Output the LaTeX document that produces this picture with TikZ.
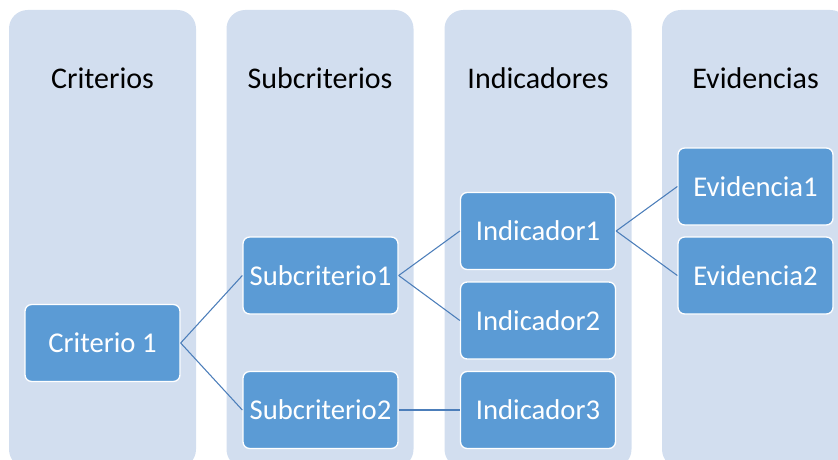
\documentclass[tikz,border=0pt]{standalone}
\usepackage{fontspec}
\setmainfont{Carlito}
\definecolor{lane}{RGB}{210,222,239}
\definecolor{boxblue}{RGB}{91,155,213}
\definecolor{linkblue}{RGB}{76,126,186}

\begin{document}
\begin{tikzpicture}[x=0.75pt,y=-0.75pt]
        \tikzstyle{lane}=[fill=lane,rounded corners=14pt,minimum width=187*0.75pt,minimum height=458*0.75pt,inner sep=0pt]
        \tikzstyle{head}=[font=\fontsize{22.5}{27}\selectfont,text=black]
        \tikzstyle{item}=[fill=boxblue,draw=white,line width=1pt,rounded corners=5pt,minimum width=155*0.75pt,minimum height=77*0.75pt,inner sep=0pt,text=white,font=\fontsize{21.5}{26}\selectfont]
        \tikzstyle{link}=[draw=linkblue,line width=0.8pt]
        \useasboundingbox (0,0) rectangle (838,460);
        \clip (0,0) rectangle (838,460);
        % lanes
        \node[lane] (lanecrit) at (102.5,239) {};
        \node[lane] (lanesub) at (320,239) {};
        \node[lane] (laneind) at (538,239) {};
        \node[lane] (laneevi) at (755.5,239) {};
        \node[head] (hcrit) at (102.5,78) {Criterios};
        \node[head] (hsub) at (320,78) {Subcriterios};
        \node[head] (hind) at (538,78) {Indicadores};
        \node[head] (hevi) at (755.5,78) {Evidencias};
        % boxes
        \node[item] (crit1) at (102.5,343) {Criterio 1};
        \node[item] (sub1) at (320.5,275.5) {Subcriterio1};
        \node[item] (sub2) at (320.5,410) {Subcriterio2};
        \node[item] (ind1) at (538,231) {Indicador1};
        \node[item] (ind2) at (538,320.5) {Indicador2};
        \node[item] (ind3) at (538,410) {Indicador3};
        \node[item] (evi1) at (755.5,186.5) {Evidencia1};
        \node[item] (evi2) at (755.5,275.5) {Evidencia2};
        % links
        \draw[link] (crit1.east) -- (sub1.west);
        \draw[link] (crit1.east) -- (sub2.west);
        \draw[link] (sub1.east) -- (ind1.west);
        \draw[link] (sub1.east) -- (ind2.west);
        \draw[link] (sub2.east) -- (ind3.west);
        \draw[link] (ind1.east) -- (evi1.west);
        \draw[link] (ind1.east) -- (evi2.west);
\end{tikzpicture}
\end{document}
